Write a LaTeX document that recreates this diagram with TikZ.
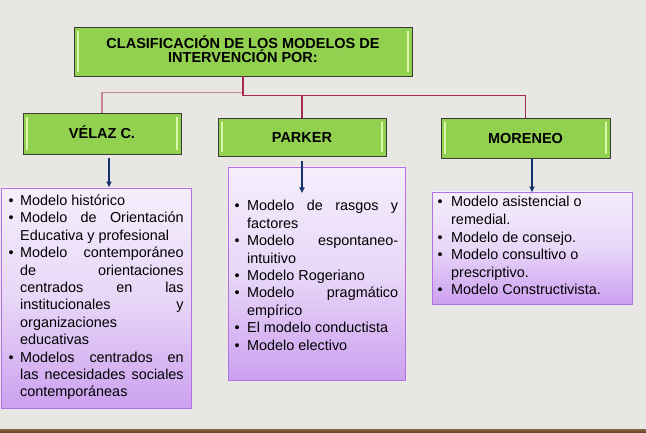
\documentclass[tikz,border=0pt]{standalone}
\usepackage{fontspec}
\setmainfont{Liberation Sans}
\usetikzlibrary{arrows.meta}
\definecolor{bg}{HTML}{E9E7E3}
\definecolor{grn}{HTML}{92D050}
\definecolor{grnhi}{HTML}{DDF7A8}
\definecolor{bord}{HTML}{3A3A3A}
\definecolor{conn}{HTML}{A52A4C}
\definecolor{connl}{HTML}{C98496}
\definecolor{navy}{HTML}{14306E}
\definecolor{ptop}{HTML}{F5EEFC}
\definecolor{pmid}{HTML}{E8D7F8}
\definecolor{pbot}{HTML}{CCA0EF}
\definecolor{pbord}{HTML}{B36FE6}
\definecolor{woodA}{HTML}{8A6440}
\definecolor{woodB}{HTML}{5E4028}
\newcommand\listfont{\fontsize{14.4}{17.4}\selectfont}
\newcommand\headfont{\fontsize{14.5}{14}\selectfont\bfseries}
\newlength\tw
\newlength\bw
\newcommand\bl{\hbox to \bw{•\hss}}
\newcommand\ind{\hskip\bw}
\tikzset{
  greenbox/.style={draw=bord, line width=0.9pt, fill=grn, inner sep=0pt,
    font=\headfont, text height=10.4pt, text depth=0pt,
    path picture={
      \draw[grnhi, line width=1.3pt]
        ([xshift=4pt,yshift=-4pt]path picture bounding box.north west) --
        ([xshift=4pt,yshift=4pt]path picture bounding box.south west);
      \draw[grnhi, line width=1.3pt]
        ([xshift=-4pt,yshift=-4pt]path picture bounding box.north east) --
        ([xshift=-4pt,yshift=4pt]path picture bounding box.south east);
    }},
  listbox/.style={draw=pbord, line width=0.9pt, top color=ptop, bottom color=pbot,
    middle color=pmid, inner sep=0pt},
  listtext/.style={anchor=base west, inner sep=0pt, font=\listfont},
  conn/.style={draw=conn, line width=1.2pt},
  connlight/.style={draw=connl, line width=1.8pt},
  arr/.style={draw=navy, line width=1.8pt, -{Latex[length=6pt,width=6pt]}},
}
\begin{document}
\begin{tikzpicture}[x=1pt,y=-1pt]
\fill[bg] (0,0) rectangle (646,433);
\useasboundingbox (0,0) rectangle (646,433);
\shade[top color=woodA, bottom color=woodB] (0,429) rectangle (646,433);

% top box
\node[greenbox, minimum width=338pt, minimum height=49pt] (top) at (243,51.5) {};
\node[anchor=base, inner sep=0pt, font=\headfont] (title) at (243,49)
  {\vtop{\baselineskip=14pt
    \hbox to 0pt{\hss CLASIFICACIÓN DE LOS MODELOS DE\hss}
    \hbox to 0pt{\hss INTERVENCIÓN POR:\hss}}};

% second row
\node[greenbox, minimum width=158pt, minimum height=41pt] (velaz) at (102,133.5) {VÉLAZ C.};
\node[greenbox, minimum width=168pt, minimum height=38pt] (parker) at (302,137) {PARKER};
\node[greenbox, minimum width=169pt, minimum height=40pt] (moreneo) at (525.5,138) {MORENEO};

% connectors
\draw[connlight] (top.south) -- ++(0,16) -| (velaz.north);
\draw[conn] (top.south) -- ++(0,19) -| (parker.north);
\draw[conn] (top.south) -- ++(0,19) -| (moreneo.north);

% list boxes
\node[listbox, minimum width=190pt, minimum height=220pt] (l1) at (96,298) {};
\node[listbox, minimum width=177pt, minimum height=213pt] (l2) at (316.5,273.5) {};
\node[listbox, minimum width=200pt, minimum height=112pt] (l3) at (532,248) {};

% arrows
\draw[arr] ([xshift=7pt,yshift=-4pt]velaz.south) -- ([xshift=13pt]l1.north);
\draw[arr] ([yshift=-5pt]parker.south) -- ++(0,32);
\draw[arr] (moreneo.south -| l3.north) -- ([yshift=-1pt]l3.north);

% list texts
\node[listtext] (t1) at (8.5,205.5) {\vtop{\setlength\tw{175pt}\setlength\bw{11.5pt}\baselineskip=17.4pt
  \hbox to\tw{\bl Modelo histórico\hfill}
  \hbox to\tw{\bl Modelo\hfill de\hfill Orientación}
  \hbox to\tw{\ind Educativa y profesional\hfill}
  \hbox to\tw{\bl Modelo\hfill contemporáneo}
  \hbox to\tw{\ind de\hfill orientaciones}
  \hbox to\tw{\ind centrados\hfill en\hfill las}
  \hbox to\tw{\ind institucionales\hfill y}
  \hbox to\tw{\ind organizaciones\hfill}
  \hbox to\tw{\ind educativas\hfill}
  \hbox to\tw{\bl Modelos\hfill centrados\hfill en}
  \hbox to\tw{\ind las\hfill necesidades\hfill sociales}
  \hbox to\tw{\ind contemporáneas\hfill}}};

\node[listtext] (t2) at (234.5,211) {\vtop{\setlength\tw{163.5pt}\setlength\bw{12.5pt}\baselineskip=17.4pt
  \hbox to\tw{\bl Modelo\hfill de\hfill rasgos\hfill y}
  \hbox to\tw{\ind factores\hfill}
  \hbox to\tw{\bl Modelo\hfill espontaneo-}
  \hbox to\tw{\ind intuitivo\hfill}
  \hbox to\tw{\bl Modelo Rogeriano\hfill}
  \hbox to\tw{\bl Modelo\hfill pragmático}
  \hbox to\tw{\ind empírico\hfill}
  \hbox to\tw{\bl El modelo conductista\hfill}
  \hbox to\tw{\bl Modelo electivo\hfill}}};

\node[listtext] (t3) at (437.5,207) {\vtop{\setlength\tw{185pt}\setlength\bw{13.5pt}\baselineskip=17.6pt
  \hbox to\tw{\bl Modelo asistencial o\hfill}
  \hbox to\tw{\ind remedial.\hfill}
  \hbox to\tw{\bl Modelo de consejo.\hfill}
  \hbox to\tw{\bl Modelo consultivo o\hfill}
  \hbox to\tw{\ind prescriptivo.\hfill}
  \hbox to\tw{\bl Modelo Constructivista.\hfill}}};
\end{tikzpicture}
\end{document}
